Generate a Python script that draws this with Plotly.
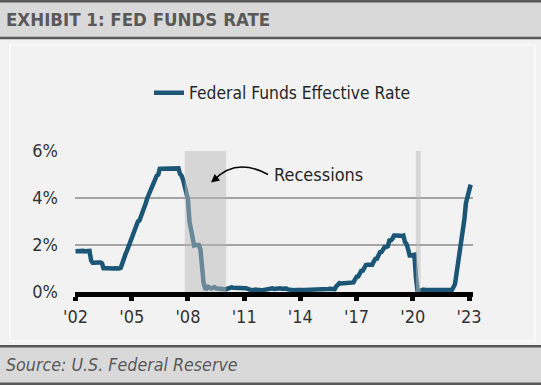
import pandas as pd
import plotly.graph_objects as go

# ---------------- data ----------------
rate_by_year = {
    2002: [1.73, 1.74, 1.73, 1.75, 1.75, 1.75, 1.73, 1.74, 1.75, 1.75, 1.34, 1.24],
    2003: [1.24, 1.26, 1.25, 1.26, 1.26, 1.22, 1.01, 1.03, 1.01, 1.01, 1.00, 0.98],
    2004: [1.00, 1.01, 1.00, 1.00, 1.00, 1.03, 1.26, 1.43, 1.61, 1.76, 1.93, 2.16],
    2005: [2.28, 2.50, 2.63, 2.79, 3.00, 3.04, 3.26, 3.50, 3.62, 3.78, 4.00, 4.16],
    2006: [4.29, 4.49, 4.59, 4.79, 4.94, 4.99, 5.24, 5.25, 5.25, 5.25, 5.25, 5.24],
    2007: [5.25, 5.26, 5.26, 5.25, 5.25, 5.25, 5.26, 5.02, 4.94, 4.76, 4.49, 4.24],
    2008: [3.94, 2.98, 2.61, 2.28, 1.98, 2.00, 2.01, 2.00, 1.81, 0.97, 0.39, 0.16],
    2009: [0.15, 0.22, 0.18, 0.15, 0.18, 0.21, 0.16, 0.16, 0.15, 0.12, 0.12, 0.12],
    2010: [0.11, 0.13, 0.16, 0.20, 0.20, 0.18, 0.18, 0.19, 0.19, 0.19, 0.19, 0.18],
    2011: [0.17, 0.16, 0.14, 0.10, 0.09, 0.09, 0.07, 0.10, 0.08, 0.07, 0.08, 0.07],
    2012: [0.08, 0.10, 0.13, 0.14, 0.16, 0.16, 0.16, 0.13, 0.14, 0.16, 0.16, 0.16],
    2013: [0.14, 0.15, 0.14, 0.15, 0.11, 0.09, 0.09, 0.08, 0.08, 0.09, 0.08, 0.09],
    2014: [0.07, 0.07, 0.08, 0.09, 0.09, 0.10, 0.09, 0.09, 0.09, 0.09, 0.09, 0.12],
    2015: [0.11, 0.11, 0.11, 0.12, 0.12, 0.13, 0.13, 0.14, 0.14, 0.12, 0.12, 0.24],
    2016: [0.34, 0.38, 0.36, 0.37, 0.37, 0.38, 0.39, 0.40, 0.40, 0.40, 0.41, 0.54],
    2017: [0.65, 0.66, 0.79, 0.90, 0.91, 1.04, 1.15, 1.16, 1.15, 1.15, 1.16, 1.30],
    2018: [1.41, 1.42, 1.51, 1.69, 1.70, 1.82, 1.91, 1.91, 1.95, 2.19, 2.20, 2.27],
    2019: [2.40, 2.40, 2.41, 2.42, 2.39, 2.38, 2.40, 2.13, 2.04, 1.83, 1.55, 1.55],
    2020: [1.55, 1.58, 0.65, 0.05, 0.05, 0.08, 0.09, 0.10, 0.09, 0.09, 0.09, 0.09],
    2021: [0.09, 0.08, 0.07, 0.07, 0.06, 0.08, 0.10, 0.09, 0.08, 0.08, 0.08, 0.08],
    2022: [0.08, 0.08, 0.20, 0.33, 0.77, 1.21, 1.68, 2.33, 2.56, 3.08, 3.78, 4.10],
    2023: [4.33, 4.57],
}
fed_funds_rate = [v for yr in sorted(rate_by_year) for v in rate_by_year[yr]]
months = pd.date_range(start="2002-01-01", periods=len(fed_funds_rate), freq="MS")

recession_starts = ["2007-11-01", "2020-03-01"]
recession_ends = ["2010-01-15", "2020-06-01"]

x_tick_vals = ["2002-01-01", "2005-01-01", "2008-01-01", "2011-01-01",
               "2014-01-01", "2017-01-01", "2020-01-01", "2023-01-01"]
x_tick_text = ["'02", "'05", "'08", "'11", "'14", "'17", "'20", "'23"]
y_tick_vals = [0, 2, 4, 6]
y_tick_text = ["0%", "2%", "4%", "6%"]

series_name = "Federal Funds Effective Rate"
title_text = "EXHIBIT 1: FED FUNDS RATE"
source_text = "Source: U.S. Federal Reserve"
callout_text = "Recessions"

# ---------------- layout helpers ----------------
W, H = 541, 385
L, R, T, B = 75, 68, 151, 93
PW, PH = W - L - R, H - T - B


def fx(px):
    return (px - L) / PW


def fy(py):
    return (H - B - py) / PH


FONT = "DejaVu Sans Condensed, Liberation Sans Narrow, Arial Narrow, sans-serif"
LINE_COLOR = "#1b5676"

fig = go.Figure()
fig.add_trace(go.Scatter(
    x=months, y=fed_funds_rate, mode="lines", name=series_name,
    line=dict(color=LINE_COLOR, width=4.5),
    showlegend=True,
))

shapes = []
# recession shading (above the line, semi transparent)
for s, e in zip(recession_starts, recession_ends):
    shapes.append(dict(type="rect", xref="x", yref="y", x0=s, x1=e, y0=0, y1=6,
                       fillcolor="#bababa", opacity=0.5, line=dict(width=0), layer="above"))

# header band
shapes.append(dict(type="rect", xref="paper", yref="paper", x0=fx(0), x1=fx(W), y0=fy(0), y1=fy(38),
                   fillcolor="#d9d9d9", line=dict(width=0), layer="below"))
shapes.append(dict(type="line", xref="paper", yref="paper", x0=fx(0), x1=fx(W), y0=fy(1.2), y1=fy(1.2),
                   line=dict(color="#595959", width=2.5)))
shapes.append(dict(type="line", xref="paper", yref="paper", x0=fx(0), x1=fx(W), y0=fy(38), y1=fy(38),
                   line=dict(color="#595959", width=2.6)))
# footer band
shapes.append(dict(type="rect", xref="paper", yref="paper", x0=fx(0), x1=fx(W), y0=fy(346), y1=fy(385),
                   fillcolor="#d9d9d9", line=dict(width=0), layer="below"))
shapes.append(dict(type="line", xref="paper", yref="paper", x0=fx(0), x1=fx(W), y0=fy(346.3), y1=fy(346.3),
                   line=dict(color="#595959", width=2.6)))
shapes.append(dict(type="line", xref="paper", yref="paper", x0=fx(0), x1=fx(W), y0=fy(383.7), y1=fy(383.7),
                   line=dict(color="#595959", width=2.6)))
# inner panel border
shapes.append(dict(type="rect", xref="paper", yref="paper", x0=fx(10), x1=fx(535), y0=fy(45), y1=fy(341),
                   fillcolor="rgba(0,0,0,0)", line=dict(color="#fbfbfb", width=1.5), layer="below"))
# curved callout arrow
sx, sy = fx(268), fy(174.5)
cx, cy = fx(236), fy(157)
ex, ey = fx(214), fy(180)
shapes.append(dict(type="path", xref="paper", yref="paper",
                   path=f"M {sx},{sy} Q {cx},{cy} {ex},{ey}",
                   line=dict(color="black", width=1.5)))

annotations = [
    dict(text=f"<b>{title_text}</b>", xref="paper", yref="paper", x=fx(4), y=fy(19.5),
         xanchor="left", yanchor="middle", showarrow=False,
         font=dict(family=FONT, size=18.5, color="#595959")),
    dict(text=f"<i>{source_text}</i>", xref="paper", yref="paper", x=fx(4), y=fy(365),
         xanchor="left", yanchor="middle", showarrow=False,
         font=dict(family=FONT, size=17.7, color="#595959")),
    dict(text=callout_text, xref="paper", yref="paper", x=fx(272), y=fy(174.5),
         xanchor="left", yanchor="middle", showarrow=False,
         font=dict(family=FONT, size=18, color="#262626")),
    dict(text="", xref="paper", yref="paper", x=fx(211), y=fy(182.5),
         ax=6, ay=-5, showarrow=True, arrowhead=2, arrowsize=1.1, arrowwidth=1.5,
         arrowcolor="black"),
]

fig.update_layout(
    width=W, height=H,
    margin=dict(l=L, r=R, t=T, b=B, pad=0),
    paper_bgcolor="#f2f2f2", plot_bgcolor="#f2f2f2",
    font=dict(family=FONT, size=18, color="#333333"),
    shapes=shapes, annotations=annotations,
    showlegend=True,
    legend=dict(orientation="h", x=fx(149), y=fy(93), xanchor="left", yanchor="middle",
                bgcolor="rgba(0,0,0,0)", borderwidth=0,
                font=dict(family=FONT, size=17.3, color="#262626")),
    xaxis=dict(type="date", range=["2001-12-22", "2023-03-19"],
               tickvals=x_tick_vals, ticktext=x_tick_text,
               showgrid=False, zeroline=False,
               showline=True, linecolor="black", linewidth=5,
               ticks="outside", tickcolor="black", tickwidth=5, ticklen=4,
               tickfont=dict(family=FONT, size=18, color="#333333")),
    yaxis=dict(range=[0, 6], tickvals=y_tick_vals, ticktext=y_tick_text,
               showgrid=True, gridcolor="#a3a3a3", gridwidth=1.5,
               zeroline=False, showline=False, ticks="",
               ticklabelstandoff=16,
               tickfont=dict(family=FONT, size=18, color="#333333")),
)

fig.write_html("out.html", config={"displayModeBar": False},
               post_script="document.body.style.margin='0px';")
